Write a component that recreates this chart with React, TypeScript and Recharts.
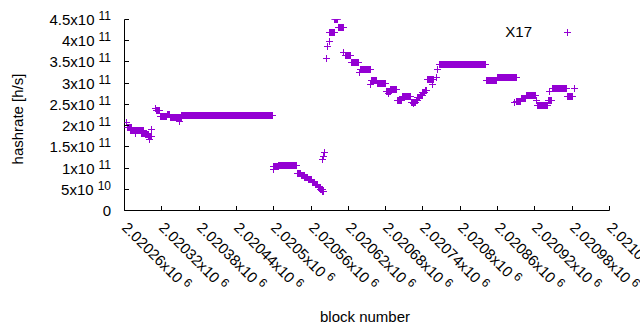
import React from 'react';
import { ScatterChart, Scatter, XAxis, YAxis, Legend } from 'recharts';

const FONT = "'Liberation Sans', Arial, Helvetica, sans-serif";
const PURPLE = '#9400d3';

const firstBlock = 2020260;
const lastBlock = 2021040;

const xTickBlocks = [
  2020260, 2020320, 2020380, 2020440, 2020500, 2020560, 2020620,
  2020680, 2020740, 2020800, 2020860, 2020920, 2020980, 2021040,
];
const yTickRates = [0, 5e10, 1e11, 1.5e11, 2e11, 2.5e11, 3e11, 3.5e11, 4e11, 4.5e11];

// runs of consecutive blocks (offset from firstBlock) sharing one hashrate value (x1e11 h/s)
const runFrom = [
  4, 5, 10, 18, 27, 34, 39, 41, 44,
  50, 51, 58, 69, 74, 89, 92,
  239, 240, 241, 248,
  278, 284, 290, 296, 302, 307, 312, 316, 319,
  319, 320, 322,
  325, 327, 329, 330, 338, 344, 353, 355, 365, 378, 380, 396, 398, 407, 421, 424, 428,
  439, 447, 461, 465, 469, 472, 476, 480, 484, 487, 496, 501, 503, 506, 582, 600,
  628, 631, 638, 646, 662, 665, 682, 684, 688, 712, 724,
];
const runTo = [
  4, 11, 30, 18, 33, 38, 43, 41, 44,
  50, 57, 68, 73, 91, 89, 238,
  239, 240, 247, 277,
  283, 289, 295, 301, 306, 311, 315, 318, 320,
  319, 320, 322,
  325, 327, 329, 337, 343, 352, 353, 364, 376, 378, 395, 396, 406, 420, 427, 424, 438,
  446, 460, 468, 465, 471, 475, 479, 483, 486, 497, 496, 501, 503, 581, 599, 630,
  628, 637, 645, 661, 662, 681, 687, 684, 711, 721, 724,
];
const runRate = [
  2.07, 1.96, 1.89, 1.82, 1.82, 1.78, 1.74, 1.68, 1.90,
  2.41, 2.35, 2.21, 2.27, 2.20, 2.09, 2.24,
  1.03, 0.96, 1.04, 1.07,
  0.86, 0.82, 0.77, 0.72, 0.67, 0.61, 0.55, 0.49, 0.44,
  1.21, 1.27, 1.37,
  3.58, 3.86, 3.97, 4.19, 4.49, 4.31, 3.72, 3.66, 3.48, 3.25, 3.32, 2.96, 3.07, 3.00, 2.80, 2.76, 2.86,
  2.60, 2.68, 2.55, 2.51, 2.60, 2.66, 2.71, 2.77, 2.83, 3.09, 2.98, 3.14, 3.32, 3.44, 3.07, 3.14,
  2.54, 2.56, 2.64, 2.71, 2.58, 2.48, 2.58, 2.80, 2.87, 2.68, 2.88,
];

const points: { block: number; hashrate: number }[] = [];
runFrom.forEach((from, i) => {
  for (let b = from; b <= runTo[i]; b++) {
    points.push({ block: firstBlock + b, hashrate: runRate[i] * 1e11 });
  }
});

const crisp = (v: number) => Math.floor(v) + 0.5;

const Cross = (props: any) => {
  const { cx, cy } = props;
  if (cx == null || cy == null) return null;
  const X = crisp(cx);
  const Y = crisp(cy);
  return (
    <path
      d={`M${X - 3.5} ${Y}H${X + 3.5}M${X} ${Y - 3.5}V${Y + 3.5}`}
      stroke={PURPLE}
      strokeWidth={1}
      fill="none"
    />
  );
};

function sci(v: number) {
  if (v === 0) return { m: '0', e: '' };
  const e = Math.floor(Math.log10(v) + 1e-9);
  const m = parseFloat((v / Math.pow(10, e)).toPrecision(3));
  return { m: `${m}x10`, e: String(e) };
}

const XTick = (props: any) => {
  const { x, y, payload } = props;
  const X = crisp(x);
  const Y = crisp(y);
  const label = parseFloat((payload.value / 1e6).toPrecision(6));
  const ax = X - 3.5;
  const ay = 228.5;
  return (
    <g>
      <line x1={X} x2={X} y1={Y} y2={Y - 4.5} stroke="#000" strokeWidth={1} />
      <text
        x={ax}
        y={ay}
        transform={`rotate(45 ${ax} ${ay})`}
        fontFamily={FONT}
        fontSize={15}
        fill="#000"
        textAnchor="start"
      >
        {`${label}x10`}
        <tspan dx={4} dy={-5} fontSize={12}>6</tspan>
      </text>
    </g>
  );
};

const TopTick = (props: any) => {
  const { x, y } = props;
  const X = crisp(x);
  const Y = crisp(y);
  return <line x1={X} x2={X} y1={Y} y2={Y + 4.5} stroke="#000" strokeWidth={1} />;
};

const YTick = (props: any) => {
  const { x, y, payload } = props;
  const X = crisp(x);
  const Y = crisp(y);
  const { m, e } = sci(payload.value);
  return (
    <g>
      <line x1={X} x2={X + 4.5} y1={Y} y2={Y} stroke="#000" strokeWidth={1} />
      <text x={111} y={Y + 5} textAnchor="end" fontFamily={FONT} fontSize={15} fill="#000">
        {m}
        {e ? <tspan dx={4} dy={-5} fontSize={12}>{e}</tspan> : null}
      </text>
    </g>
  );
};

const RightTick = (props: any) => {
  const { x, y } = props;
  const X = crisp(x);
  const Y = crisp(y);
  return <line x1={X} x2={X - 4.5} y1={Y} y2={Y} stroke="#000" strokeWidth={1} />;
};

const xTitle = () => (
  <text x={365} y={322} textAnchor="middle" fontFamily={FONT} fontSize={15} fill="#000">
    block number
  </text>
);

const yTitle = () => (
  <text
    x={18}
    y={119}
    transform="rotate(-90 18 119)"
    textAnchor="middle"
    dy="0.35em"
    fontFamily={FONT}
    fontSize={15}
    fill="#000"
  >
    hashrate [h/s]
  </text>
);

const LegendBox = () => (
  <svg width={110} height={20} style={{ display: 'block' }}>
    <text x={52} y={15} textAnchor="end" fontFamily={FONT} fontSize={15} fill="#000">
      X17
    </text>
    <path d="M84 10.5H91M87.5 7V14" stroke={PURPLE} strokeWidth={1} fill="none" />
  </svg>
);

export default function App() {
  return (
    <div style={{ position: 'absolute', left: 0, top: 0, width: 640, height: 330, background: '#fff' }}>
      <ScatterChart width={640} height={330} margin={{ top: 19.5, right: 30.5, bottom: 0, left: 0 }}>
        <XAxis
          xAxisId="b"
          type="number"
          dataKey="block"
          domain={[firstBlock, lastBlock]}
          ticks={xTickBlocks}
          interval={0}
          allowDataOverflow
          height={119.5}
          tickSize={0}
          tickMargin={0}
          tickLine={false}
          axisLine={{ stroke: '#000', strokeWidth: 1 }}
          tick={(p: any) => <XTick {...p} />}
          label={xTitle}
        />
        <XAxis
          xAxisId="t"
          orientation="top"
          type="number"
          dataKey="block"
          domain={[firstBlock, lastBlock]}
          ticks={xTickBlocks}
          interval={0}
          allowDataOverflow
          height={0}
          tickSize={0}
          tickMargin={0}
          tickLine={false}
          axisLine={{ stroke: '#000', strokeWidth: 1 }}
          tick={(p: any) => <TopTick {...p} />}
        />
        <YAxis
          yAxisId="l"
          type="number"
          dataKey="hashrate"
          domain={[0, 4.5e11]}
          ticks={yTickRates}
          interval={0}
          allowDataOverflow
          width={124.5}
          tickSize={0}
          tickMargin={0}
          tickLine={false}
          axisLine={{ stroke: '#000', strokeWidth: 1 }}
          tick={(p: any) => <YTick {...p} />}
          label={yTitle}
        />
        <YAxis
          yAxisId="r"
          orientation="right"
          type="number"
          dataKey="hashrate"
          domain={[0, 4.5e11]}
          ticks={yTickRates}
          interval={0}
          allowDataOverflow
          width={0}
          tickSize={0}
          tickMargin={0}
          tickLine={false}
          axisLine={{ stroke: '#000', strokeWidth: 1 }}
          tick={(p: any) => <RightTick {...p} />}
        />
        <Scatter
          name="X17"
          xAxisId="b"
          yAxisId="l"
          data={points}
          shape={Cross}
          isAnimationActive={false}
        />
        <Legend
          layout="vertical"
          align="center"
          verticalAlign="middle"
          wrapperStyle={{ left: 480, top: 22, width: 110, height: 20 }}
          content={() => <LegendBox />}
        />
      </ScatterChart>
    </div>
  );
}
